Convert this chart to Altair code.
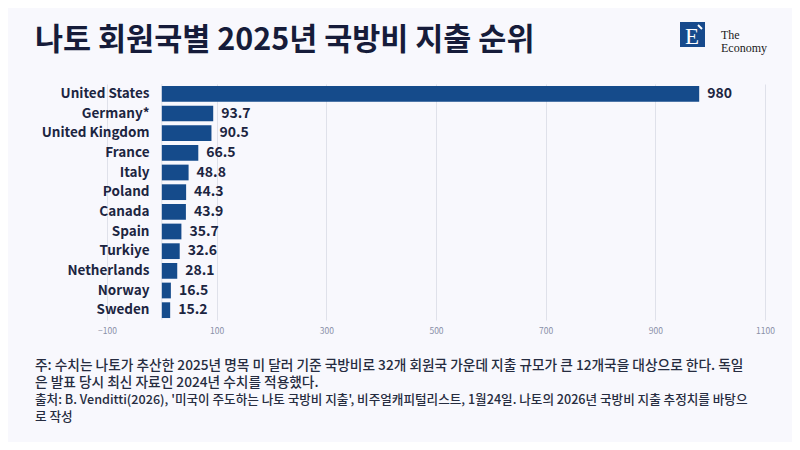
import altair as alt
import pandas as pd

countries = ["United States", "Germany*", "United Kingdom", "France", "Italy", "Poland",
             "Canada", "Spain", "Turkiye", "Netherlands", "Norway", "Sweden"]
spending = [980, 93.7, 90.5, 66.5, 48.8, 44.3, 43.9, 35.7, 32.6, 28.1, 16.5, 15.2]
x_ticks = [-100, 100, 300, 500, 700, 900, 1100]

title_text = "나토 회원국별 2025년 국방비 지출 순위"
note_lines = [
    "주: 수치는 나토가 추산한 2025년 명목 미 달러 기준 국방비로 32개 회원국 가운데 지출 규모가 큰 12개국을 대상으로 한다. 독일",
    "은 발표 당시 최신 자료인 2024년 수치를 적용했다.",
]
source_lines = [
    "출처: B. Venditti(2026), '미국이 주도하는 나토 국방비 지출', 비주얼캐피털리스트, 1월24일. 나토의 2026년 국방비 지출 추정치를 바탕으",
    "로 작성",
]

df = pd.DataFrame({
    "country": countries,
    "value": spending,
    "label": [f"{v:g}" for v in spending],
})

FONT = "Noto Sans CJK KR"
NAVY = "#1c2541"
BAR = "#154b8b"
GRID = "#dfe1ea"
BG = "#f8f8fd"

x_scale = alt.Scale(domain=[-100, 1100], nice=False, zero=False)
y_enc = alt.Y("country:N", sort=countries,
              scale=alt.Scale(paddingInner=0.2, paddingOuter=0.1),
              axis=alt.Axis(title=None, domain=False, ticks=False, labelPadding=13,
                            offset=-55,
                            labelFont=FONT, labelFontWeight="bold", labelFontSize=13.5,
                            labelColor=NAVY, grid=False))

base = alt.Chart(df)

bars = base.mark_bar(color=BAR).encode(
    x=alt.X("value:Q", scale=x_scale,
            axis=alt.Axis(title=None, values=x_ticks, grid=True, gridColor=GRID,
                          domain=False, ticks=False, labelFont=FONT, labelFontSize=8.5,
                          labelColor="#8a90a8", labelPadding=6, format="d",
                          labelFlush=False)),
    y=y_enc,
)

zero_rule = alt.Chart(pd.DataFrame({"z": [0]})).mark_rule(color=GRID, strokeWidth=1).encode(
    x=alt.X("z:Q", scale=x_scale)
)

labels = base.mark_text(align="left", baseline="middle", dx=8, font=FONT,
                        fontWeight="bold", fontSize=14, color=NAVY).encode(
    x=alt.X("value:Q", scale=x_scale),
    y=alt.Y("country:N", sort=countries),
    text="label:N",
)

def txt(s, x, y, size, weight="normal", color=NAVY, font=FONT, align="left"):
    return alt.Chart(pd.DataFrame({"t": [s]})).mark_text(
        align=align, baseline="alphabetic", font=font, fontSize=size,
        fontWeight=weight, color=color).encode(
        x=alt.value(x), y=alt.value(y), text="t:N")

def multiline(lines, x, y, size, line_height, weight="normal", color=NAVY):
    return alt.Chart(pd.DataFrame({"a": [0]})).mark_text(
        align="left", baseline="alphabetic", font=FONT, fontSize=size,
        fontWeight=weight, color=color, lineHeight=line_height, text=lines).encode(
        x=alt.value(x), y=alt.value(y))

title = txt(title_text, -72, -34, 30.5, weight="bold", color="#161c3a")

logo_box = alt.Chart(pd.DataFrame({"a": [0]})).mark_rect(color="#174a8c").encode(
    x=alt.value(573), x2=alt.value(598), y=alt.value(-62), y2=alt.value(-37))
logo_e = txt("E", 585, -40, 23, color="white", font="Liberation Serif", align="center")
logo_tick = alt.Chart(pd.DataFrame({"a": [0]})).mark_rule(color="white", strokeWidth=2).encode(
    x=alt.value(591), x2=alt.value(595), y=alt.value(-59), y2=alt.value(-55))
logo_the = txt("The", 614, -45, 12, font="Liberation Serif", color="#1a1a1a")
logo_eco = txt("Economy", 614, -32, 12, font="Liberation Serif", color="#1a1a1a")

notes = multiline(note_lines, -72, 286, 13.7, 17, weight=500, color="#262c40")
source = multiline(source_lines, -72, 320, 12.6, 17, weight=500, color="#262c40")

chart = alt.layer(zero_rule, bars, labels, title, logo_box, logo_e, logo_tick,
                  logo_the, logo_eco, notes, source).properties(
    width=658, height=236,
    autosize=alt.AutoSizeParams(type="none"),
    padding={"left": 99, "top": 76, "right": 27, "bottom": 122},
    background=BG,
).configure_view(stroke=None)

chart.save("out.html", embed_options={"renderer": "svg", "actions": False})
